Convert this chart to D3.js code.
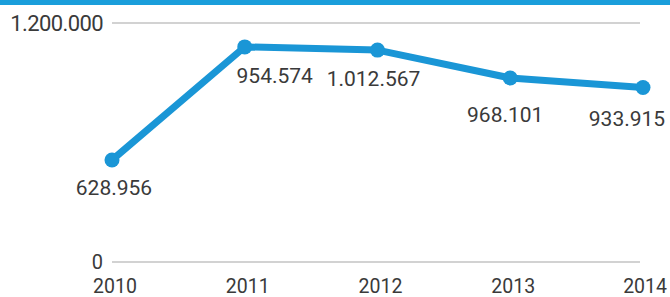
<!DOCTYPE html>
<html>
<head>
<meta charset="utf-8">
<script src="https://cdn.jsdelivr.net/npm/d3@7"></script>
<style>
  html, body { margin: 0; padding: 0; background: #fff; }
  svg { display: block; }
  text { font-family: Roboto, "Noto Sans", sans-serif; fill: #3a3a3a; }
</style>
</head>
<body>
<svg id="chart" width="670" height="297"></svg>
<script>
// ---- data ----
const years = ["2010", "2011", "2012", "2013", "2014"];
// values as drawn in the reference picture (positions)
const plottedValues = [512000, 1080000, 1064000, 924000, 876000];
// value labels as printed in the reference
const valueLabels = ["628.956", "954.574", "1.012.567", "968.101", "933.915"];
const yTicks = [0, 1200000];
const yTickLabels = ["0", "1.200.000"];

// ---- layout ----
const W = 670, H = 297;
const labelOffsets = [[2, 35], [30, 36], [-4, 36], [-5, 44], [-16, 38]];
const svg = d3.select("#chart");

const x = d3.scalePoint().domain(years).range([112, 643]);
const y = d3.scaleLinear().domain([0, 1200000]).range([262, 23]);

// top band
svg.append("rect").attr("x", 0).attr("y", 0).attr("width", W).attr("height", 5).attr("fill", "#1a9edb");

// gridlines
svg.selectAll("line.grid").data(yTicks).enter().append("line")
  .attr("class", "grid")
  .attr("x1", 112).attr("x2", 640)
  .attr("y1", d => y(d)).attr("y2", d => y(d))
  .attr("stroke", "#d2d2d2").attr("stroke-width", 2);

// y tick labels
svg.selectAll("text.ytick").data(yTicks).enter().append("text")
  .attr("class", "ytick")
  .attr("x", 103)
  .attr("y", (d, i) => y(d) + (i === 0 ? 7 : 8))
  .attr("text-anchor", "end")
  .attr("font-size", (d, i) => i === 0 ? 20 : 22)
  .attr("letter-spacing", (d, i) => i === 0 ? 0 : -0.6)
  .text((d, i) => yTickLabels[i]);

// x labels
svg.selectAll("text.xlab").data(years).enter().append("text")
  .attr("class", "xlab")
  .attr("x", (d, i) => i === years.length - 1 ? 667 : x(d) + 3)
  .attr("y", 292.5)
  .attr("text-anchor", (d, i) => i === years.length - 1 ? "end" : "middle")
  .attr("font-size", 19.5)
  .text(d => d);

// line
const pts = years.map((d, i) => ({ year: d, v: plottedValues[i], label: valueLabels[i], off: labelOffsets[i] }));
svg.append("path").datum(pts)
  .attr("fill", "none")
  .attr("stroke", "#1a96d6")
  .attr("stroke-width", 7)
  .attr("stroke-linejoin", "round")
  .attr("d", d3.line().x(d => x(d.year)).y(d => y(d.v)));

svg.selectAll("circle.pt").data(pts).enter().append("circle")
  .attr("class", "pt")
  .attr("cx", d => x(d.year)).attr("cy", d => y(d.v))
  .attr("r", 7.5).attr("fill", "#1a96d6");

// value labels
svg.selectAll("text.vlab").data(pts).enter().append("text")
  .attr("class", "vlab")
  .attr("x", d => x(d.year) + d.off[0])
  .attr("y", d => y(d.v) + d.off[1])
  .attr("text-anchor", "middle")
  .attr("font-size", 21)
  .text(d => d.label);
</script>
</body>
</html>
